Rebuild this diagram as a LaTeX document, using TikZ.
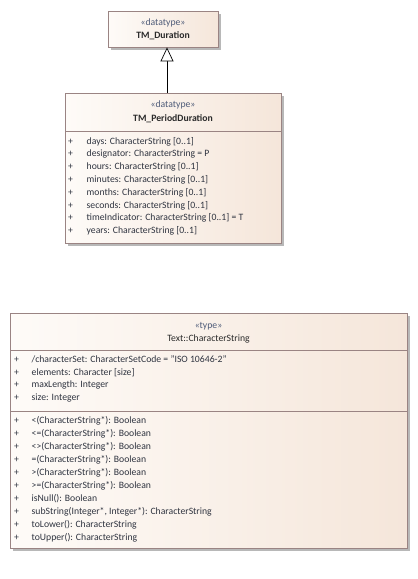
\documentclass[tikz,border=0pt]{standalone}
\usepackage{fontspec}
\setmainfont{Carlito}
\usetikzlibrary{arrows.meta,shadows,calc}
\definecolor{boxline}{HTML}{9A8483}
\definecolor{fillL}{HTML}{FEFBF8}
\definecolor{fillR}{HTML}{F5E6DA}
\definecolor{stereo}{HTML}{4E5B78}
\definecolor{nametxt}{HTML}{2A2A2A}
\definecolor{membertxt}{HTML}{2F3440}
\newcommand{\umlfont}{\fontsize{9.7}{11}\selectfont}
\begin{document}
\begin{tikzpicture}[x=1pt,y=-1pt,
  umlbox/.style={draw=boxline, line width=0.8pt, left color=fillL, right color=fillR,
    shading angle=90, rectangle, inner sep=0pt,
    drop shadow={shadow xshift=2.5pt, shadow yshift=-2.5pt, fill=black!28, opacity=1}},
  sep/.style={draw=boxline, line width=0.8pt},
  stereotxt/.style={font=\umlfont, text=stereo, inner sep=0pt},
  classname/.style={font=\umlfont\bfseries, text=nametxt, inner sep=0pt},
  member/.style={font=\umlfont, text=membertxt, anchor=west, inner sep=0pt},
  gen/.style={draw=black, line width=0.7pt, -{Triangle[open, length=14pt, width=13pt, fill=white]}}
]
\useasboundingbox (0,0) rectangle (418,579);
\fill[white] (0,0) rectangle (418,579);

% TM_Duration
\node[umlbox, minimum width=110pt, minimum height=36pt] (dur) at (163,29) {};
\node[stereotxt] (dur-st) at (163,23) {«datatype»};
\node[classname] (dur-nm) at (163,36) {TM\_Duration};

% TM_PeriodDuration
\node[umlbox, minimum width=216pt, minimum height=150pt] (pd) at (173,168) {};
\node[stereotxt] (pd-st) at (173,105) {«datatype»};
\node[classname] (pd-nm) at (173,118.5) {TM\_PeriodDuration};
\draw[sep] (65,131.5) -- (281,131.5);
\foreach \txt [count=\i] in {
  {days: CharacterString [0..1]},
  {designator: CharacterString = P},
  {hours: CharacterString [0..1]},
  {minutes: CharacterString [0..1]},
  {months: CharacterString [0..1]},
  {seconds: CharacterString [0..1]},
  {timeIndicator: CharacterString [0..1] = T},
  {years: CharacterString [0..1]}} {
  \node[member] (pd-p\i) at (68,{141.5+12.8*(\i-1)}) {+};
  \node[member] (pd-a\i) at (86.5,{141.5+12.8*(\i-1)}) {\txt};
}

% generalization
\coordinate (g) at (167,0);
\draw[gen] (pd.north -| g) -- (dur.south -| g);

% Text::CharacterString
\node[umlbox, minimum width=397pt, minimum height=235pt] (cs) at (208.5,430.5) {};
\node[stereotxt] (cs-st) at (208.5,326) {«type»};
\node[classname, font=\umlfont] (cs-nm) at (208.5,338.5) {Text::CharacterString};
\draw[sep] (10,350) -- (407,350);
\draw[sep] (10,411) -- (407,411);
\foreach \txt [count=\i] in {
  {/characterSet: CharacterSetCode = "ISO 10646-2"},
  {elements: Character [size]},
  {maxLength: Integer},
  {size: Integer}} {
  \node[member] (cs-p\i) at (14,{359.5+12.9*(\i-1)}) {+};
  \node[member] (cs-a\i) at (31.5,{359.5+12.9*(\i-1)}) {\txt};
}
\foreach \txt [count=\i] in {
  {<(CharacterString*): Boolean},
  {<=(CharacterString*): Boolean},
  {<>(CharacterString*): Boolean},
  {=(CharacterString*): Boolean},
  {>(CharacterString*): Boolean},
  {>=(CharacterString*): Boolean},
  {isNull(): Boolean},
  {subString(Integer*, Integer*): CharacterString},
  {toLower(): CharacterString},
  {toUpper(): CharacterString}} {
  \node[member] (cs-q\i) at (14,{421+12.95*(\i-1)}) {+};
  \node[member] (cs-o\i) at (31.5,{421+12.95*(\i-1)}) {\txt};
}
\end{tikzpicture}
\end{document}
